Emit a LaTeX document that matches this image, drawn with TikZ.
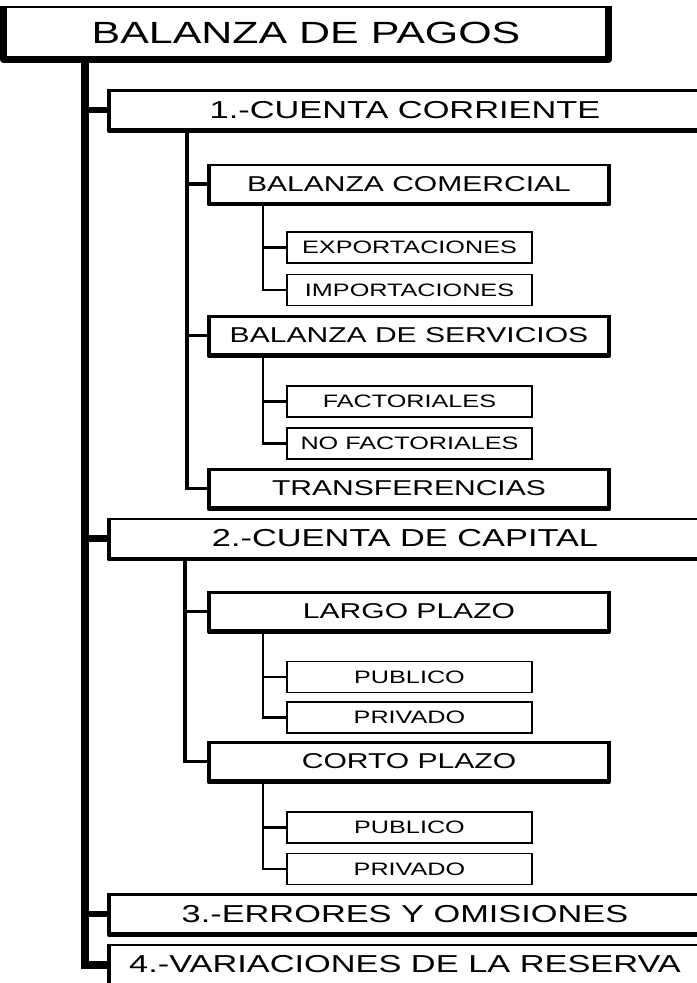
\documentclass[tikz,border=0pt]{standalone}
\usepackage{fontspec}
\setmainfont{Liberation Sans}[FakeStretch=1.4]
\usetikzlibrary{positioning}

\tikzset{
  caja/.style   = {draw, rectangle, inner sep=0pt, align=center, fill=white, line width=1.6pt},
  nivel0/.style = {caja, minimum width=451.5pt, minimum height=38.25pt,
                   font=\fontsize{23}{26}\selectfont, line width=2.2pt},
  nivel1/.style = {caja, minimum width=442.5pt, minimum height=29.25pt,
                   font=\fontsize{18.4}{21}\selectfont},
  nivel2/.style = {caja, minimum width=298.5pt, minimum height=28.5pt,
                   font=\fontsize{16.1}{19}\selectfont},
  nivel3/.style = {caja, minimum width=183.75pt, minimum height=23.25pt,
                   font=\fontsize{13.5}{16}\selectfont, line width=1.1pt},
  borde0/.style = {line width=5.5pt, line join=round},
  borde/.style  = {line width=3.6pt, line join=round},
  tronco/.style = {line width=6pt},
  rama1/.style  = {line width=5pt},
  rama2/.style  = {line width=2.6pt},
  rama3/.style  = {line width=1.6pt}
}

\begin{document}
\begin{tikzpicture}[x=0.75pt, y=-0.75pt]
  \useasboundingbox[fill=white] (0,0) rectangle (697,983);

  %% nodos
  \node[nivel0] (bp) at (306,32.5) {BALANZA DE PAGOS};
  \node[nivel1] (cc) at (405,110) {1.-CUENTA CORRIENTE};
  \node[nivel2] (bc) at (409,184) {BALANZA COMERCIAL};
  \node[nivel3] (ex) at (409.5,247.5) {EXPORTACIONES};
  \node[nivel3] (im) at (409.5,290) {IMPORTACIONES};
  \node[nivel2] (bs) at (409,335.5) {BALANZA DE SERVICIOS};
  \node[nivel3] (fa) at (409.5,401.5) {FACTORIALES};
  \node[nivel3] (nf) at (409.5,443.5) {NO FACTORIALES};
  \node[nivel2] (tf) at (409,488.5) {TRANSFERENCIAS};
  \node[nivel1] (ck) at (405,538.5) {2.-CUENTA DE CAPITAL};
  \node[nivel2] (lp) at (409,611.5) {LARGO PLAZO};
  \node[nivel3] (pu1) at (409.5,677) {PUBLICO};
  \node[nivel3] (pr1) at (409.5,717.5) {PRIVADO};
  \node[nivel2] (cp) at (409,761.5) {CORTO PLAZO};
  \node[nivel3] (pu2) at (409.5,827.5) {PUBLICO};
  \node[nivel3] (pr2) at (409.5,869) {PRIVADO};
  \node[nivel1] (eo) at (405,914) {3.-ERRORES Y OMISIONES};
  \node[nivel1] (vr) at (405,964.5) {4.-VARIACIONES DE LA RESERVA};

  %% puntos de las ramas
  \coordinate (t0) at (85,58);
  \coordinate (t1) at (187,130);
  \coordinate (t2) at (185,558);
  \coordinate (s1) at (263,203);
  \coordinate (s2) at (263,355);
  \coordinate (s3) at (263,630);
  \coordinate (s4) at (263,779);

  %% conectores
  \draw[tronco] (t0) |- (vr.west);
  \foreach \n in {cc,ck,eo} \draw[rama1] (t0 |- \n.west) -- (\n.west);
  \draw[rama2] (t1) |- (tf.west);
  \foreach \n in {bc,bs} \draw[rama2] (t1 |- \n.west) -- (\n.west);
  \draw[rama2] (t2) |- (cp.west);
  \draw[rama2] (t2 |- lp.west) -- (lp.west);
  \draw[rama3] (s1) |- (im.west);  \draw[rama3] (s1 |- ex.west) -- (ex.west);
  \draw[rama3] (s2) |- (nf.west);  \draw[rama3] (s2 |- fa.west) -- (fa.west);
  \draw[rama3] (s3) |- (pr1.west); \draw[rama3] (s3 |- pu1.west) -- (pu1.west);
  \draw[rama3] (s4) |- (pr2.west); \draw[rama3] (s4 |- pu2.west) -- (pu2.west);

  %% bordes gruesos
  \draw[borde0] (bp.north west) -- (bp.south west) -- (bp.south east) -- (bp.north east);
  \foreach \n in {cc,ck,eo,vr,bc,bs,tf,lp,cp}
    \draw[borde] (\n.north west) -- (\n.south west) -- (\n.south east) -- (\n.north east);
\end{tikzpicture}
\end{document}
